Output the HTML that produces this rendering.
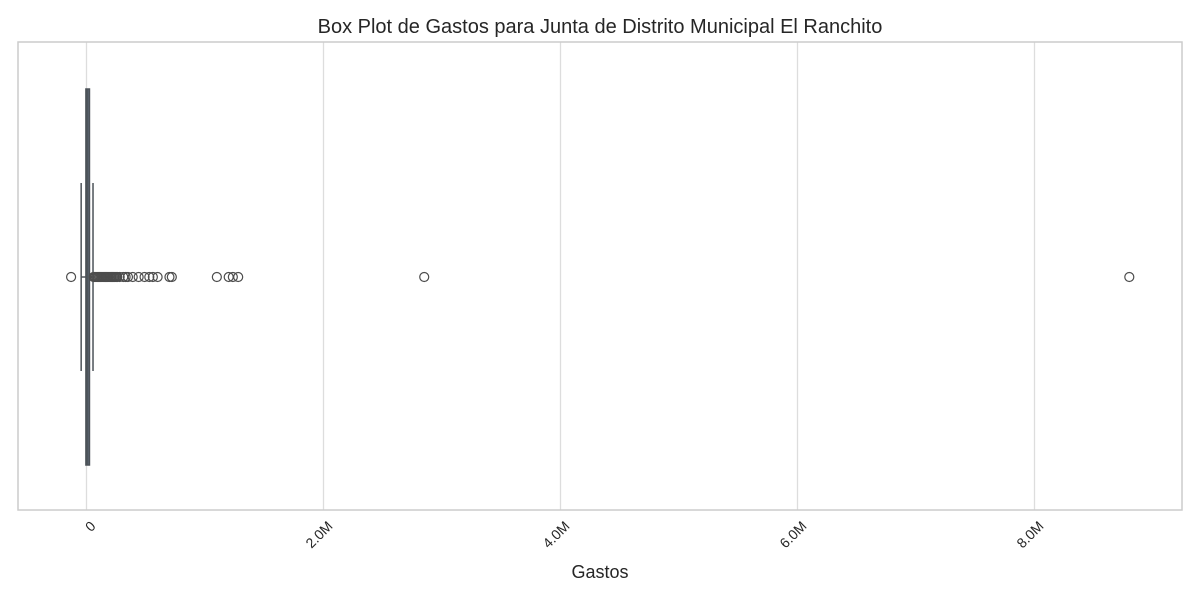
<!DOCTYPE html>
<html><head><meta charset="utf-8"><style>
body{margin:0;background:#fff;font-family:"Liberation Sans",sans-serif}
</style></head><body>
<svg id="chart" width="1200" height="600" font-family="Liberation Sans, sans-serif">
<text x="600" y="33" text-anchor="middle" font-size="20" fill="#262626">Box Plot de Gastos para Junta de Distrito Municipal El Ranchito</text>
<g id="grid"></g>
<rect x="18" y="42" width="1164" height="468" fill="none" stroke="#cccccc" stroke-width="1.5"/>
<g id="marks"></g>
<g id="ticks"></g>
<text x="600" y="578" text-anchor="middle" font-size="18" fill="#262626">Gastos</text>
</svg>
<script>
const tickValues=[0,2000000,4000000,6000000,8000000];
const tickLabels=["0","2.0M","4.0M","6.0M","8.0M"];
const q1=-5000, median=5000, q3=25000, whiskerLow=-45000, whiskerHigh=55000;
const outliers=[-130000,60000,70000,80000,90000,100000,110000,120000,130000,140000,150000,160000,170000,180000,190000,200000,210000,220000,230000,240000,250000,260000,280000,310000,330000,350000,390000,440000,490000,530000,560000,600000,700000,720000,1100000,1200000,1235000,1280000,2850000,8800000];
const NS="http://www.w3.org/2000/svg";
const x=v=>86.5+v/1000000*118.5;
const yc=277, boxTop=89, boxBot=465, capTop=183, capBot=371;
function mk(t,a,p){const e=document.createElementNS(NS,t);for(const k in a)e.setAttribute(k,a[k]);p.appendChild(e);return e;}
const grid=document.getElementById('grid'),marks=document.getElementById('marks'),ticks=document.getElementById('ticks');
tickValues.forEach((v,i)=>{
 const g=mk('line',{x1:x(v),x2:x(v),y1:42,y2:510,stroke:'#dddddd','stroke-width':1.3},grid);
 
 
 const t=mk('text',{x:0,y:0,'font-size':14,fill:'#262626','text-anchor':'end',transform:`translate(${x(v)+10},${527}) rotate(-45)`},ticks);
 t.textContent=tickLabels[i];
 
 
});
const wl=mk('line',{x1:x(whiskerLow),x2:x(q1),y1:yc,y2:yc,stroke:'#4d5359','stroke-width':1.5},marks);


const wh=mk('line',{x1:x(q3),x2:x(whiskerHigh),y1:yc,y2:yc,stroke:'#4d5359','stroke-width':1.5},marks);


[whiskerLow,whiskerHigh].forEach(v=>{
 const c=mk('line',{x1:x(v),x2:x(v),y1:capTop,y2:capBot,stroke:'#4d5359','stroke-width':1.5},marks);
 
 
});
const b=mk('rect',{x:x(q1),y:boxTop,width:Math.max(1,x(q3)-x(q1)),height:boxBot-boxTop,fill:'#5a6470',stroke:'#4d5359','stroke-width':1.5},marks);


const m=mk('line',{x1:x(median),x2:x(median),y1:boxTop,y2:boxBot,stroke:'#4d5359','stroke-width':1.5},marks);


outliers.forEach(v=>{
 const c=mk('circle',{cx:x(v),cy:yc,r:4.5,fill:'none',stroke:'#4d4d4d','stroke-width':1.2},marks);
 
 
});
</script>
</body></html>
